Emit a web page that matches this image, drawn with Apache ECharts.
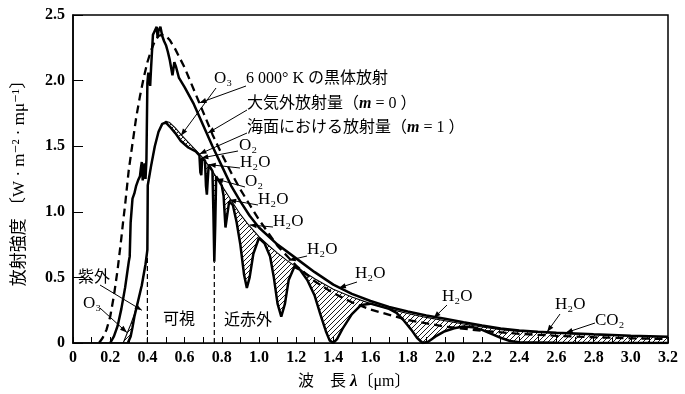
<!DOCTYPE html>
<html><head><meta charset="utf-8">
<script src="https://cdn.jsdelivr.net/npm/echarts@6/dist/echarts.min.js"></script>
<style>html,body{margin:0;padding:0;background:#fff}#c{width:685px;height:394px}</style>
</head><body><div id="c"></div>
<script>
// ---- data (wavelength μm, intensity W·m-2·mμ-1) ----
const bbX = [0.14,0.16,0.18,0.20,0.22,0.24,0.26,0.27,0.28,0.30,0.32,0.34,0.36,0.38,0.40,0.42,0.44,0.46,0.48,0.50,0.52,0.55,0.60,0.65,0.70,0.75,0.80,0.85,0.90,1.0,1.1,1.2,1.3,1.4,1.5,1.6,1.8,2.0,2.2,2.4,2.6,2.8,3.0,3.2];
const bbY = [0,0.04,0.1,0.2,0.36,0.56,0.8,0.93,1.05,1.32,1.52,1.72,1.88,2.02,2.14,2.23,2.3,2.34,2.35,2.34,2.31,2.24,2.1,1.93,1.76,1.59,1.44,1.3,1.17,0.94,0.74,0.59,0.47,0.38,0.31,0.255,0.175,0.125,0.093,0.07,0.055,0.044,0.036,0.03];

const m0X = [0.20,0.22,0.24,0.26,0.28,0.29,0.30,0.305,0.31,0.32,0.33,0.34,0.35,0.36,0.365,0.37,0.375,0.38,0.385,0.39,0.395,0.40,0.405,0.41,0.415,0.42,0.43,0.44,0.45,0.455,0.46,0.47,0.48,0.49,0.50,0.51,0.52,0.53,0.535,0.545,0.555,0.57,0.60,0.65,0.70,0.75,0.80,0.85,0.90,0.95,1.0,1.1,1.2,1.3,1.4,1.5,1.6,1.7,1.8,1.9,2.0,2.1,2.2,2.3,2.4,2.5,2.6,2.8,3.0,3.2];
const m0Y = [0,0.05,0.13,0.26,0.42,0.52,0.62,0.66,0.92,1.1,1.14,1.2,1.24,1.27,1.33,1.38,1.24,1.3,1.37,1.25,1.4,1.98,2.06,2.0,1.96,2.1,2.35,2.36,2.41,2.33,2.38,2.41,2.34,2.3,2.27,2.22,2.16,2.08,2.04,2.14,2.1,2.02,1.95,1.82,1.66,1.5,1.35,1.2,1.08,0.97,0.88,0.75,0.645,0.54,0.445,0.375,0.32,0.275,0.24,0.21,0.185,0.158,0.133,0.11,0.095,0.086,0.079,0.067,0.056,0.047];

const envX = [0.27,0.29,0.31,0.33,0.35,0.37,0.39,0.40,0.402,0.42,0.44,0.46,0.48,0.50,0.52,0.55,0.58,0.62,0.66,0.70,0.75,0.80,0.85,0.90,0.95,1.0,1.05,1.1,1.15,1.2,1.3,1.4,1.5,1.6,1.7,1.8,1.9,2.0,2.1,2.2,2.3,2.4,2.6,2.8,3.0,3.2];
const envY = [0,0.07,0.14,0.22,0.32,0.44,0.6,0.71,1.2,1.35,1.5,1.61,1.67,1.69,1.68,1.64,1.59,1.53,1.47,1.41,1.31,1.2,1.09,0.98,0.89,0.81,0.745,0.685,0.63,0.58,0.49,0.41,0.35,0.3,0.26,0.225,0.195,0.17,0.145,0.122,0.102,0.088,0.074,0.063,0.053,0.045];

const m1X = [0.295,0.30,0.31,0.32,0.33,0.35,0.37,0.39,0.40,0.402,0.42,0.44,0.46,0.48,0.50,0.52,0.55,0.58,0.62,0.66,0.68,0.685,0.69,0.695,0.71,0.715,0.72,0.725,0.73,0.75,0.755,0.76,0.765,0.77,0.80,0.81,0.82,0.83,0.84,0.86,0.88,0.90,0.92,0.935,0.95,0.97,1.0,1.03,1.06,1.08,1.10,1.12,1.14,1.16,1.19,1.22,1.26,1.30,1.33,1.36,1.38,1.40,1.42,1.45,1.5,1.55,1.6,1.7,1.74,1.78,1.82,1.85,1.88,1.91,1.95,2.0,2.05,2.1,2.15,2.2,2.25,2.3,2.35,2.4,2.6,3.2];
const m1Y = [0,0.01,0.05,0.12,0.2,0.32,0.44,0.6,0.71,1.2,1.35,1.5,1.61,1.67,1.68,1.65,1.6,1.54,1.49,1.46,1.43,1.3,1.28,1.41,1.39,1.2,1.13,1.25,1.36,1.31,1.0,0.62,0.9,1.27,1.2,1.12,0.88,0.98,1.08,1.05,0.92,0.75,0.52,0.42,0.5,0.68,0.8,0.76,0.66,0.5,0.3,0.2,0.3,0.48,0.58,0.56,0.48,0.36,0.22,0.09,0.02,0,0.03,0.11,0.22,0.29,0.3,0.26,0.23,0.17,0.1,0.04,0,0.01,0.05,0.09,0.112,0.125,0.12,0.1,0.07,0.04,0.015,0.005,0.002,0];

const boundaryX = [0.40, 0.76];
const boundaryTop = [0.71, 0.62];

const xTicks = [0,0.2,0.4,0.6,0.8,1.0,1.2,1.4,1.6,1.8,2.0,2.2,2.4,2.6,2.8,3.0,3.2];
const yTicks = [0,0.5,1.0,1.5,2.0,2.5];

// annotations: text, data tip
const annText = ['O₃','6 000° K の黒体放射','大気外放射量（{i|m} = 0 ）','海面における放射量（{i|m} = 1 ）','O₂','H₂O','O₂','H₂O','H₂O','H₂O','H₂O','H₂O','H₂O','CO₂','紫外','O₃'];
const annTipX = [0.58,0.68,0.725,0.68,0.69,0.73,0.77,0.84,0.95,1.16,1.43,1.94,2.55,2.65,0.37,0.29];
const annTipY = [1.58,1.83,1.6,1.44,1.41,1.36,1.25,1.09,0.9,0.63,0.42,0.19,0.085,0.078,0.25,0.08];
const regionText = ['可視','近赤外'];
</script>
<script>
// layout (pixels) for annotation texts, leader starts, font sizes
const annLayout = [
  [214,79,216,88,17],[246,79,246,86,16],[247,104,247,110,16],[247,128,247,133,16],
  [239,146,238,151,17],[240,163,240,168,17],[245,182,245,187,17],[258,200,258,205,17],
  [273,222,273,227,17],[307,250,307,256,17],[355,274,357,282,17],[442,297,447,305,17],
  [555,305,560,314,17],[595,321,595,323,17],[78,278,100,285,16],[83,304,100,308,17]
];
const regionLayout = [[163,320],[224,321]];

const FONT = "'Liberation Serif','DejaVu Serif','Noto Sans CJK JP'";
const pc = document.createElement('canvas'); pc.width = 5; pc.height = 5;
const g = pc.getContext('2d'); g.strokeStyle = '#000'; g.lineWidth = 0.9;
g.beginPath(); g.moveTo(0,5); g.lineTo(5,0); g.moveTo(-2.5,2.5); g.lineTo(2.5,-2.5); g.moveTo(2.5,7.5); g.lineTo(7.5,2.5); g.stroke();

const zip = (a,b)=>a.map((v,i)=>[v,b[i]]);
const chart = echarts.init(document.getElementById('c'));
const lineBase = {type:'line', showSymbol:false, symbol:'none', animation:false, silent:true};
const series = [
  Object.assign({}, lineBase, {name:'hatch', data:zip(envX,envY), z:1, lineStyle:{opacity:0}, areaStyle:{color:{image:pc, repeat:'repeat'}, opacity:1, origin:'start'}}),
  Object.assign({}, lineBase, {name:'white', data:zip(m1X,m1Y), z:2, lineStyle:{opacity:0}, areaStyle:{color:'#fff', opacity:1, origin:'start'}}),
  Object.assign({}, lineBase, {name:'env', data:zip(envX,envY), z:3, lineStyle:{color:'#000', width:1.1}}),
  Object.assign({}, lineBase, {name:'m1', data:zip(m1X,m1Y), z:4, lineStyle:{color:'#000', width:2.5}}),
  Object.assign({}, lineBase, {name:'m0', data:zip(m0X,m0Y), z:4, lineStyle:{color:'#000', width:2.5}}),
  Object.assign({}, lineBase, {name:'bb', data:zip(bbX,bbY), z:4, lineStyle:{color:'#000', width:2.3, type:[8,5]}}),
];
boundaryX.forEach((bx,i)=>{
  series.push(Object.assign({}, lineBase, {name:'b'+i, data:[[bx,0],[bx,boundaryTop[i]]], z:4, lineStyle:{color:'#000', width:1.2, type:[5,3]}}));
});

chart.setOption({
  animation:false,
  grid:{left:73, right:17, top:15, bottom:51, show:true, borderColor:'#000', borderWidth:1.5, backgroundColor:'transparent'},
  xAxis:{type:'value', min:0, max:3.2, interval:0.2, z:10,
    axisLine:{lineStyle:{color:'#000', width:1.5}},
    axisTick:{inside:true, length:6, lineStyle:{color:'#000', width:1}},
    minorTick:{show:true, splitNumber:2, length:6, lineStyle:{color:'#000', width:1}},
    splitLine:{show:false},
    axisLabel:{margin:7, color:'#000', fontFamily:FONT, fontWeight:'bold', fontSize:16,
      formatter:v=>{const t=xTicks.find(q=>Math.abs(q-v)<1e-6); return t===0?'0':(t===undefined?'':t.toFixed(1));}}},
  yAxis:{type:'value', min:0, max:2.5, interval:0.5, z:10,
    name:'放射強度 〔W · m⁻² · mμ⁻¹〕', nameLocation:'middle', nameRotate:90, nameGap:45,
    nameTextStyle:{color:'#000', fontFamily:FONT, fontSize:17},
    axisLine:{show:true, lineStyle:{color:'#000', width:1.5}},
    axisTick:{show:true, inside:true, length:10, lineStyle:{color:'#000', width:1}},
    splitLine:{show:false},
    axisLabel:{margin:8, color:'#000', fontFamily:FONT, fontWeight:'bold', fontSize:16,
      formatter:v=>{const t=yTicks.find(q=>Math.abs(q-v)<1e-6); return t===0?'0':(t===undefined?'':t.toFixed(1));}}},
  series
});

const P = (x,y)=>chart.convertToPixel({gridIndex:0},[x,y]);
const gr = [];
annText.forEach((t,i)=>{
  const [tx,ty,sx,sy,fs] = annLayout[i];
  const rich = {i:{fontStyle:'italic', fontWeight:'bold', fontFamily:FONT, fontSize:fs, fill:'#000'}};
  gr.push({type:'text', z:20, silent:true, style:{text:t, x:tx, y:ty, verticalAlign:'middle', font:fs+'px '+FONT, fill:'#000', rich}});
  const [px,py] = P(annTipX[i], annTipY[i]);
  gr.push({type:'line', z:20, silent:true, shape:{x1:sx,y1:sy,x2:px,y2:py}, style:{stroke:'#000', lineWidth:1}});
  const a = Math.atan2(py-sy, px-sx), L=7, W=2.6;
  const bx = px - L*Math.cos(a), by = py - L*Math.sin(a);
  gr.push({type:'polygon', z:20, silent:true, shape:{points:[[px,py],[bx+W*Math.sin(a), by-W*Math.cos(a)],[bx-W*Math.sin(a), by+W*Math.cos(a)]]}, style:{fill:'#000'}});
});
regionText.forEach((t,i)=>{
  gr.push({type:'text', z:20, silent:true, style:{text:t, x:regionLayout[i][0], y:regionLayout[i][1], verticalAlign:'middle', font:'16px '+FONT, fill:'#000'}});
});
gr.push({type:'text', z:20, silent:true, style:{text:'波　長 {l|λ}〔μm〕', x:298, y:382, verticalAlign:'middle', font:'16px '+FONT, fill:'#000',
  rich:{l:{fontStyle:'italic', fontWeight:'bold', fontFamily:FONT, fontSize:17, fill:'#000'}}}});
chart.setOption({graphic:gr});
</script>
</body></html>
